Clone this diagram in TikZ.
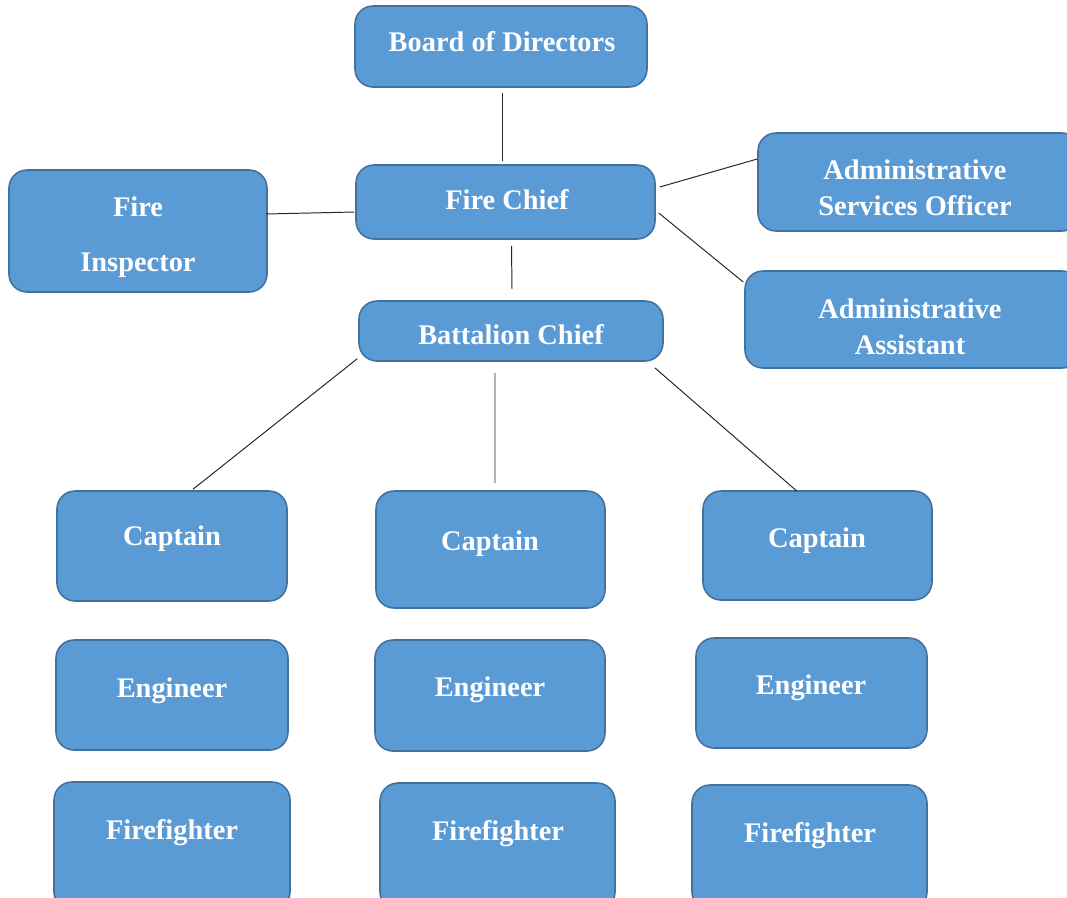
\documentclass[tikz,border=0pt]{standalone}
\usepackage{fontspec}
\setmainfont{Liberation Serif}
\usetikzlibrary{fit}
\usetikzlibrary{calc}
\definecolor{boxfill}{HTML}{5B9BD5}
\definecolor{boxline}{HTML}{41719C}
\tikzset{
	orgbox/.style={draw=boxline, fill=boxfill, line width=1.1pt, rounded corners=0.45cm, inner sep=0pt},
	orgtext/.style={text=white, font=\fontsize{20.2}{25}\selectfont\bfseries, align=center, inner sep=0pt, yshift=-0.07cm},
	link/.style={draw=black!85, line width=0.7pt}
}
\newcommand{\orgbox}[5]{   % name, x1, y1, x2, y2
	\node[orgbox, fit={(#2,#3) (#4,#5)}] (#1) {};
}

\begin{document}
\begin{tikzpicture}[x=0.025cm, y=-0.025cm]
\useasboundingbox (0,0) rectangle (1067,897);
\clip (0,0) rectangle (1067,897);

% top
\orgbox{board}{355}{6}{647}{87}
\node[orgtext] (board-t) at (502,39) {Board of Directors};
\orgbox{chief}{356}{165}{655}{239}
\node[orgtext] (chief-t) at (507,197) {Fire Chief};
\orgbox{insp}{9}{170}{267}{292}
\node[orgtext] (insp-t1) at (138,204) {Fire};
\node[orgtext] (insp-t2) at (138,262) {Inspector};
\orgbox{aso}{758}{133}{1080}{231}
\node[orgtext] (aso-t) at (915,185) {Administrative\\Services Officer};
\orgbox{assist}{745}{271}{1080}{368}
\node[orgtext] (assist-t) at (910,324) {Administrative\\Assistant};
\orgbox{batt}{359}{301}{663}{361}
\node[orgtext] (batt-t) at (511,332) {Battalion Chief};

% crews
\orgbox{capa}{57}{491}{287}{601}
\node[orgtext] (capa-t) at (172,536) {Captain};
\orgbox{capb}{376}{491}{605}{608}
\node[orgtext] (capb-t) at (490,541) {Captain};
\orgbox{capc}{703}{491}{932}{600}
\node[orgtext] (capc-t) at (817,538) {Captain};

\orgbox{enga}{56}{640}{288}{750}
\node[orgtext] (enga-t) at (172,688) {Engineer};
\orgbox{engb}{375}{640}{605}{751}
\node[orgtext] (engb-t) at (490,687) {Engineer};
\orgbox{engc}{696}{638}{927}{748}
\node[orgtext] (engc-t) at (811,685) {Engineer};

\orgbox{ffa}{54}{782}{290}{910}
\node[orgtext] (ffa-t) at (172,830) {Firefighter};
\orgbox{ffb}{380}{783}{615}{910}
\node[orgtext] (ffb-t) at (498,831) {Firefighter};
\orgbox{ffc}{692}{785}{927}{910}
\node[orgtext] (ffc-t) at (810,833) {Firefighter};

% links
\draw[link] ($(board.south)+(1,5)$) -- ($(chief.north)+(-3.5,-3)$);
\draw[link] ($(insp.east)+(-2,-17)$) -- ($(chief.west)+(-1,10)$);
\draw[link] ($(chief.east)+(4,-15)$) -- ($(aso.west)+(0,-23)$);
\draw[link] ($(chief.east)+(3,11)$) -- ($(assist.west)+(-1,-37.5)$);
\draw[link] ($(chief.south)+(6,6)$) -- ($(batt.north)+(1,-11)$);
\draw[link] ($(batt.south west)+(-1,-3)$) -- ($(capa.north)+(21,-1)$);
\draw[link] ($(batt.south)+(-16,11)$) -- ($(capb.north)+(4.5,-7)$);
\draw[link] ($(batt.south east)+(-9,6)$) -- ($(capc.north)+(-20.5,1)$);
\end{tikzpicture}
\end{document}
